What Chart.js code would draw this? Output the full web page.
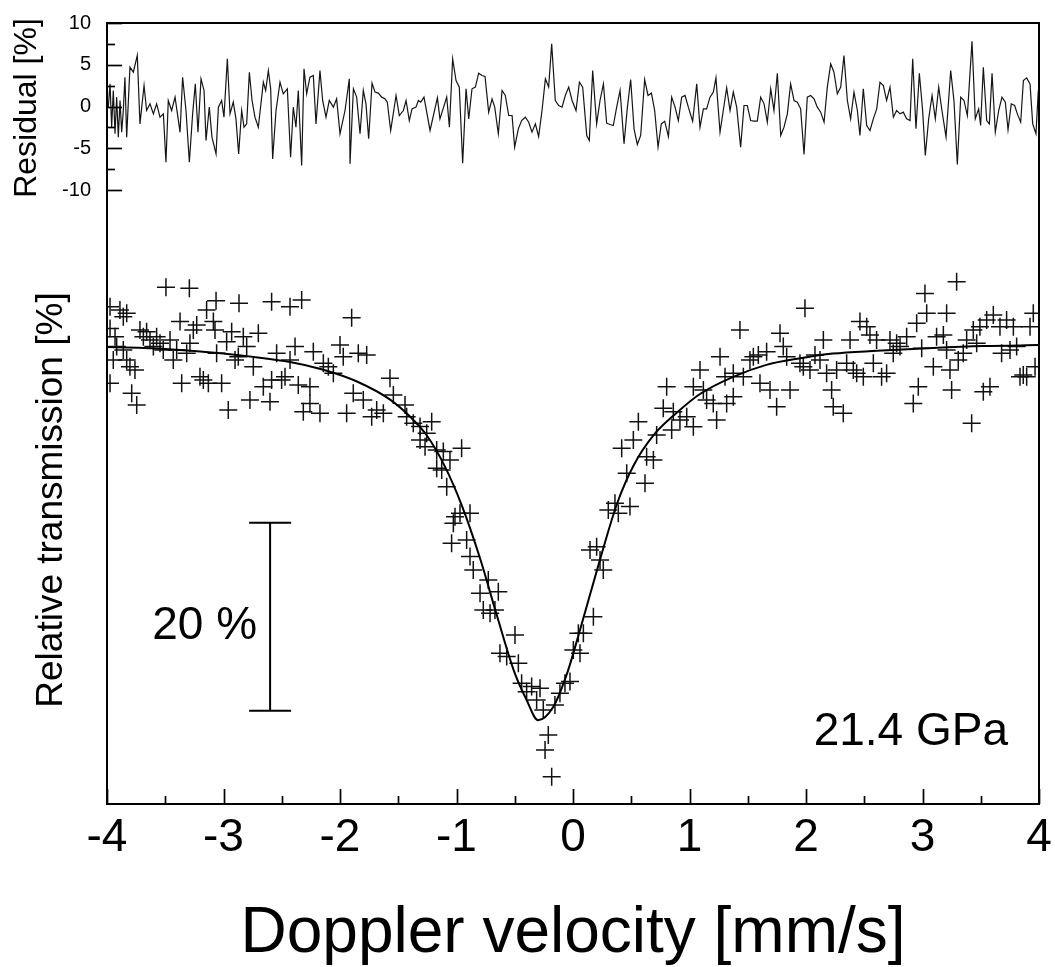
<!DOCTYPE html>
<html><head><meta charset="utf-8">
<script src="https://cdn.jsdelivr.net/npm/chart.js@4.4.1/dist/chart.umd.min.js"></script>
<style>html,body{margin:0;padding:0;background:#fff;}#wrap{width:1055px;height:967px;}</style>
</head><body><div id="wrap"><canvas id="c" width="1055" height="967"></canvas></div>
<script>
// ---- axis ticks ----
const xTicks = [-4,-3,-2,-1,0,1,2,3,4];
const residualTicks = [-10,-5,0,5,10];

// ---- residual trace (velocity mm/s, residual %) ----
const resV = [-3.989,-3.974,-3.960,-3.946,-3.931,-3.917,-3.903,-3.888,-3.874,-3.860,-3.846,-3.831,-3.803,-3.774,-3.740,-3.717,-3.682,-3.660,-3.631,-3.602,-3.574,-3.545,-3.516,-3.494,-3.474,-3.445,-3.416,-3.373,-3.351,-3.322,-3.293,-3.265,-3.242,-3.219,-3.193,-3.167,-3.150,-3.122,-3.099,-3.064,-3.044,-3.016,-2.996,-2.967,-2.944,-2.916,-2.893,-2.870,-2.844,-2.824,-2.801,-2.778,-2.755,-2.730,-2.701,-2.658,-2.638,-2.615,-2.595,-2.578,-2.549,-2.515,-2.487,-2.452,-2.424,-2.401,-2.378,-2.358,-2.329,-2.309,-2.286,-2.258,-2.229,-2.206,-2.172,-2.149,-2.120,-2.092,-2.057,-2.029,-2.000,-1.957,-1.920,
-1.914,-1.885,-1.857,-1.828,-1.800,-1.777,-1.754,-1.725,-1.699,-1.671,-1.642,-1.614,-1.594,-1.565,-1.519,-1.491,-1.456,-1.433,-1.405,-1.382,-1.348,-1.327,-1.307,-1.279,-1.227,-1.164,-1.142,-1.084,-1.061,-1.033,-1.004,-0.976,-0.947,-0.918,-0.895,-0.867,-0.838,-0.810,-0.781,-0.755,-0.724,-0.695,-0.672,-0.641,-0.609,-0.581,-0.552,-0.523,-0.501,-0.469,-0.441,-0.409,-0.380,-0.352,-0.323,-0.295,-0.266,-0.237,-0.209,-0.183,-0.152,-0.123,-0.094,-0.066,-0.037,-0.008,0.026,0.055,0.083,0.118,0.140,0.169,0.203,0.232,0.261,0.289,0.318,0.346,0.375,0.404,0.438,0.467,0.495,0.524,0.552,0.581,0.615,0.644,0.673,0.701,0.730,0.758,0.787,0.819,0.847,0.876,0.904,0.933,0.962,0.990,1.027,1.062,1.090,
1.119,1.147,1.176,1.205,1.227,1.262,1.290,1.319,1.348,1.376,1.405,1.439,1.468,1.496,1.525,1.554,1.582,1.611,1.640,1.668,1.697,1.725,1.754,1.783,1.811,1.840,1.868,1.897,1.926,1.954,1.983,2.011,2.040,2.069,2.097,2.126,2.155,2.183,2.212,2.240,2.269,2.298,2.326,2.355,2.383,2.412,2.441,2.463,2.492,2.521,2.549,2.578,2.607,2.635,2.664,2.692,2.721,2.750,2.778,2.807,2.835,2.864,2.893,2.916,2.944,2.973,3.001,3.024,3.053,3.082,3.110,3.139,3.167,3.202,3.242,3.270,3.299,3.328,3.356,3.385,3.425,3.453,3.482,3.499,3.522,3.551,3.574,3.597,3.625,3.654,3.682,3.711,3.734,3.762,3.791,3.814,3.843,3.866,3.894,3.923,3.946,3.974,3.994];
const resR = [-0.08,2.71,-2.48,1.92,-3.27,1.12,-3.67,0.72,-3.07,-0.48,3.51,-3.67,4.71,4.11,6.11,-2.08,2.51,-0.48,0.32,-0.88,0.32,-1.28,-0.88,-6.67,0.72,-0.48,1.12,-3.07,3.51,-0.48,-6.67,-0.88,2.71,-3.07,3.31,1.92,-4.07,-0.08,-3.67,-5.67,-0.08,0.72,-1.28,5.71,-0.88,0.52,-1.48,-5.67,-0.48,-2.48,-2.08,4.11,0.72,-1.28,-2.48,2.91,1.92,4.31,2.12,-6.27,-0.48,2.91,1.52,2.12,-6.07,-0.08,-2.48,1.92,-7.07,4.51,1.52,3.51,3.71,-2.08,4.31,0.72,-1.28,0.72,-0.08,0.92,-3.27,-0.48,3.31,
-6.87,2.12,1.12,-3.27,1.92,0.32,-3.87,2.79,1.72,1.6,1.12,0.92,0.52,-2.87,1.32,-1.08,-0.48,0.72,-1.68,-0.28,-0.08,0.72,0.52,1.12,-2.87,1.04,-1.48,1.12,-2.48,5.71,3.11,2.32,-6.79,2.12,-1.48,2.12,2.32,3.99,3.71,3.59,-0.68,0.92,-0.08,-3.27,1.92,1.32,-1.08,-1.08,-4.87,-2.67,-1.68,-1.28,-1.88,-3.07,-2.08,-3.59,-0.48,3.31,2.32,7.5,0.72,0.12,-0.08,1.32,2.32,0.72,-0.48,2.91,2.32,-3.47,-4.07,4.31,-2.08,0.72,2.71,-2.0,-2.16,-2.28,-0.08,1.92,-4.47,-0.08,3.23,-2.67,-4.55,-3.47,3.23,1.32,1.6,-0.48,-4.87,-2.08,-1.76,-3.59,1.12,-0.08,-1.68,1.12,1.32,-0.08,-1.76,2.71,-2.48,
-0.28,-0.28,1.12,1.72,3.43,-3.07,-0.48,2.24,-0.48,1.72,-0.08,-4.87,0.12,0.12,-1.68,-1.76,-1.76,1.12,0.32,-1.88,2.12,-0.48,3.99,-3.47,-2.48,-0.88,2.71,0.72,0.52,-0.28,-5.75,1.12,1.32,0.92,-0.08,-0.68,-1.88,2.32,5.11,4.11,1.52,2.32,6.11,0.72,-1.48,1.72,-0.48,-3.47,2.12,-2.28,-2.87,-1.48,-0.28,2.91,2.51,0.72,2.32,-1.28,-0.48,-0.88,-0.68,-1.48,-1.68,5.71,-2.67,3.99,-0.48,-5.87,-1.48,1.32,-1.48,2.32,-0.48,-3.67,4.31,0.72,-6.95,1.12,0.72,-1.08,7.82,-1.48,-0.28,-2.28,4.71,-1.68,-2.08,3.99,-3.07,-0.48,1.12,0.52,-2.79,0.32,0.12,-0.88,-1.88,3.11,3.43,2.71,-2.08,-3.27,1.92];

// ---- fitted curve (velocity, relative transmission %) ----
const fitV = [-4.0,-3.5,-3.0,-2.43,-2.15,-1.85,-1.57,-1.40,-1.25,-1.10,-0.95,-0.80,-0.65,-0.50,-0.40,-0.30,-0.17,-0.05,0.06,0.23,0.38,0.52,0.69,0.89,1.09,1.37,1.66,1.95,2.23,2.61,3.09,3.52,4.0];
const fitT = [100.0,99.8,99.3,98.4,97.6,96.3,94.4,92.6,90.5,87.3,83.0,77.6,71.3,65.3,62.5,60.3,61.7,65.3,69.9,77.3,83.4,87.4,90.6,93.0,95.0,96.8,98.1,98.8,99.3,99.6,99.9,100.1,100.2];

// ---- measured points (velocity, relative transmission %) ----
const dataV = [-3.494,-3.293,-3.064,-2.867,-2.587,-2.429,-2.329,-1.900,-3.974,-3.889,-3.860,-3.831,-3.974,-3.931,-3.917,-3.946,-3.974,-3.860,-3.831,-3.803,-3.760,-3.717,-3.688,-3.660,-3.631,-3.602,-3.574,-3.545,-3.517,-3.459,-3.431,-3.402,-3.373,-3.359,-3.316,-3.288,-3.259,-3.230,-3.202,-3.173,-3.145,-3.130,-3.087,-3.059,-3.073,-3.016,-2.973,-2.959,-2.930,-2.901,-2.873,-2.830,-2.801,-2.773,-2.744,-2.701,-2.658,-2.601,-2.587,-2.544,-2.501,-2.472,-2.429,-2.386,-2.358,-2.315,-2.258,-2.258,-2.229,-2.172,-2.143,-2.100,-2.057,-2.000,-1.972,-1.943,-1.886,-1.843,-1.771,-1.800,-1.728,-1.685,-1.628,-1.571,-1.542,-3.788,-3.745,
-1.442,-1.428,-1.371,-1.313,-1.256,-1.213,-1.313,-1.270,-1.170,-1.113,-1.056,-1.170,-1.127,-1.084,-0.956,-1.013,-0.970,-0.884,-1.027,-1.042,-0.913,-0.884,-0.856,-0.798,-0.727,-0.641,-0.770,-0.712,-0.670,-0.627,-0.569,-0.498,-0.469,-0.441,-0.398,-0.355,-0.283,-0.312,-0.255,-0.212,-0.240,-0.183,-0.155,-0.112,-0.069,-0.026,0.003,0.060,0.046,0.089,0.175,0.146,0.203,0.232,0.260,0.303,0.360,0.389,0.489,0.461,0.418,0.518,0.561,0.618,0.632,0.690,0.718,0.775,0.804,0.861,0.918,0.976,1.033,1.033,0.847,
1.090,1.119,1.147,1.204,1.233,1.262,1.319,1.376,1.305,1.376,1.433,1.462,1.519,1.548,1.591,1.605,1.662,1.691,1.748,1.777,1.805,1.834,1.863,1.948,1.977,1.991,2.034,2.077,2.120,2.149,2.177,2.220,2.234,2.263,2.320,2.349,2.378,2.406,2.435,2.463,2.492,2.521,2.549,2.578,2.606,2.649,2.692,2.721,2.749,2.778,2.807,2.864,2.921,2.950,2.964,2.993,3.021,3.036,3.093,3.121,3.179,3.207,3.207,3.236,3.250,3.293,3.307,3.350,3.379,3.422,3.436,3.465,3.493,3.522,3.551,3.579,3.608,3.665,3.679,3.722,3.751,3.780,3.808,3.837,3.865,3.894,3.923,3.951,3.966];
const dataT = [106.35,106.24,104.93,104.65,104.82,104.29,105.0,103.12,104.29,103.94,103.23,103.58,101.98,101.1,100.04,98.62,96.13,99.68,98.62,97.91,97.55,101.81,101.1,101.63,100.74,100.04,101.1,100.39,99.68,100.74,98.62,99.68,102.7,96.13,99.33,100.39,101.81,102.34,96.84,96.49,103.94,96.13,102.7,99.33,101.81,96.13,100.57,93.3,101.63,98.62,98.97,101.1,100.04,94.36,97.91,101.45,95.78,94.18,96.49,99.33,96.49,96.84,98.62,100.04,95.95,93.12,94.0,95.78,99.5,92.94,98.26,97.91,97.2,100.21,98.97,92.94,95.07,99.33,99.15,94.36,92.59,93.3,92.94,96.67,94.89,95.07,93.83,
93.83,92.59,91.88,91.53,90.82,92.06,90.11,89.4,89.04,88.87,87.98,87.09,86.92,85.14,89.22,81.95,82.31,82.31,81.24,79.11,79.47,77.7,76.28,73.79,75.21,73.97,72.02,71.67,72.02,67.41,67.06,69.36,66.35,64.22,63.33,63.87,63.69,62.45,61.38,58.72,57.13,54.29,61.92,63.16,64.22,64.4,67.77,67.41,69.54,69.54,71.31,78.41,78.76,77.34,76.28,82.66,83.37,82.31,83.02,86.56,89.22,90.11,92.06,85.5,88.33,87.98,90.64,93.48,95.78,93.12,92.23,92.59,95.78,91.52,91.17,
97.55,95.43,94.36,94.0,92.23,98.97,94.0,94.72,96.84,97.2,101.8,96.84,98.62,98.97,99.15,96.13,99.5,95.43,93.65,101.45,100.04,98.97,95.43,98.26,97.91,104.11,97.55,99.15,98.62,100.74,97.2,95.43,93.65,97.55,92.94,98.26,100.74,97.55,97.2,102.7,96.84,102.16,101.28,98.26,100.74,96.84,97.2,100.74,99.33,100.39,100.04,101.1,94.0,102.52,95.78,99.86,105.7,103.58,97.91,101.1,101.28,103.58,99.68,97.55,95.43,106.95,98.62,99.33,100.74,91.88,101.81,100.39,102.16,95.25,102.87,95.78,103.4,102.16,99.33,102.87,99.68,102.16,100.04,96.84,97.02,96.84,102.16,103.58,97.91];

// ---- annotations ----
const scaleBar = {v: -2.6, top: 81.3, span: 20, label: '20 %'};
const pressureLabel = '21.4 GPa';
const xTitle = 'Doppler velocity [mm/s]';
const residualTitle = 'Residual [%]';
const mainTitle = 'Relative transmission [%]';

const FAMILY = "'Liberation Sans', Arial, Helvetica, sans-serif";

const framePlugin = {
  id: 'frame',
  afterDraw(chart) {
    const {ctx, chartArea: a, scales} = chart;
    const x = scales.x, yr = scales.yr, ym = scales.ym;
    ctx.save();
    ctx.strokeStyle = '#000';
    ctx.fillStyle = '#000';
    ctx.lineWidth = 2;
    ctx.strokeRect(a.left, a.top, a.right - a.left, a.bottom - a.top);
    // inward x ticks
    ctx.lineWidth = 1.7;
    for (let k = 0; k <= 16; k++) {
      const v = -4 + k * 0.5;
      const px = Math.round(x.getPixelForValue(v)) + 0.5;
      const len = (k % 2 === 0) ? 15 : 8;
      ctx.beginPath(); ctx.moveTo(px, a.bottom); ctx.lineTo(px, a.bottom - len); ctx.stroke();
    }
    // inward residual ticks
    for (let k = 0; k <= 8; k++) {
      const v = -10 + k * 2.5;
      const py = Math.round(yr.getPixelForValue(v)) + 0.5;
      const len = (k % 2 === 0) ? 15 : 8;
      ctx.beginPath(); ctx.moveTo(a.left, py); ctx.lineTo(a.left + len, py); ctx.stroke();
    }
    // scale bar
    const bx = x.getPixelForValue(scaleBar.v);
    const by1 = ym.getPixelForValue(scaleBar.top);
    const by2 = ym.getPixelForValue(scaleBar.top - scaleBar.span);
    ctx.lineWidth = 2;
    ctx.beginPath();
    ctx.moveTo(bx, by1); ctx.lineTo(bx, by2);
    ctx.moveTo(bx - 21, by1); ctx.lineTo(bx + 21, by1);
    ctx.moveTo(bx - 21, by2); ctx.lineTo(bx + 21, by2);
    ctx.stroke();
    ctx.font = '46px ' + FAMILY;
    ctx.textAlign = 'right';
    ctx.textBaseline = 'alphabetic';
    ctx.fillText(scaleBar.label, bx - 13, (by1 + by2) / 2 + 22);
    ctx.fillText(pressureLabel, a.right - 31, a.bottom - 59);
    // vertical titles
    ctx.textAlign = 'center';
    ctx.save();
    ctx.translate(36, 108); ctx.rotate(-Math.PI / 2);
    ctx.font = '32px ' + FAMILY;
    ctx.fillText(residualTitle, 0, 0);
    ctx.restore();
    ctx.save();
    ctx.translate(62, 500); ctx.rotate(-Math.PI / 2);
    ctx.font = '37px ' + FAMILY;
    ctx.fillText(mainTitle, 0, 0);
    ctx.restore();
    ctx.restore();
  }
};

new Chart(document.getElementById('c'), {
  type: 'scatter',
  data: {
    datasets: [
      { label: 'Residual', data: resV.map((v, i) => ({x: v, y: resR[i]})), yAxisID: 'yr',
        showLine: true, borderColor: '#151515', borderWidth: 1.2, pointRadius: 0, tension: 0, fill: false },
      { label: 'Fit', data: fitV.map((v, i) => ({x: v, y: fitT[i]})), yAxisID: 'ym',
        showLine: true, borderColor: '#000', borderWidth: 2, pointRadius: 0, cubicInterpolationMode: 'monotone', fill: false },
      { label: 'Data', data: dataV.map((v, i) => ({x: v, y: dataT[i]})), yAxisID: 'ym',
        showLine: false, pointStyle: 'cross', pointRadius: 9, pointHoverRadius: 9,
        borderColor: '#111', pointBorderColor: '#111', borderWidth: 1.5, pointBorderWidth: 1.5 }
    ]
  },
  options: {
    responsive: false, animation: false, devicePixelRatio: 1, events: [],
    layout: {padding: {left: 0, right: 16, top: 23, bottom: 0}},
    plugins: {legend: {display: false}, tooltip: {enabled: false}},
    scales: {
      x: {
        type: 'linear', position: 'bottom', min: -4, max: 4,
        afterBuildTicks: s => { s.ticks = xTicks.map(v => ({value: v})); },
        ticks: {font: {family: FAMILY, size: 46}, color: '#000', padding: 0, maxRotation: 0, autoSkip: false},
        grid: {display: false, drawTicks: true, tickLength: 7}, border: {display: false},
        title: {display: true, text: xTitle, color: '#000', font: {family: FAMILY, size: 64, lineHeight: 1.1}, padding: {top: 0, bottom: -3}},
        afterFit: s => { s.height = 163; }
      },
      yr: {
        type: 'linear', position: 'left', min: -83.53, max: 10,
        afterBuildTicks: s => { s.ticks = residualTicks.map(v => ({value: v})); },
        ticks: {font: {family: FAMILY, size: 20}, color: '#000', padding: 0},
        grid: {display: false, drawTicks: true, tickLength: 16}, border: {display: false},
        afterFit: s => { s.width = 107; }
      },
      ym: { type: 'linear', position: 'left', min: 51.38, max: 134.47, display: false }
    }
  },
  plugins: [framePlugin]
});
</script></body></html>
